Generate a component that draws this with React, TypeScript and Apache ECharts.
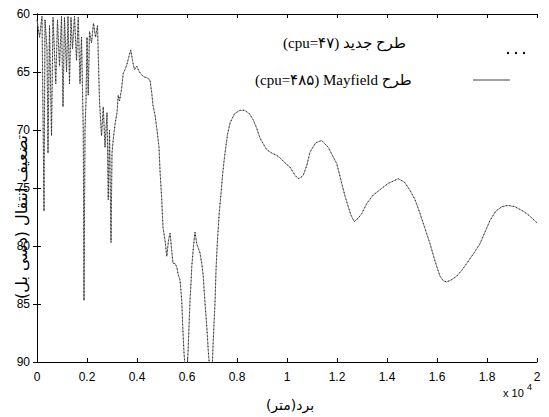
import React, { useEffect, useRef } from "react";
import * as echarts from "echarts";

// Range in units of 10^4 m, attenuation in dB
const nearFieldPairs: [number, number][] = [
  [0.000, 60.5], [0.010, 62], [0.020, 60.2], [0.028, 77], [0.032, 60.5], [0.040, 63], [0.044, 72],
  [0.050, 61], [0.058, 70.5], [0.064, 60.3], [0.075, 66], [0.082, 60.5], [0.090, 64.5], [0.098, 60.2],
  [0.104, 68], [0.110, 60.3], [0.118, 65], [0.124, 60.2], [0.130, 66], [0.136, 60.3], [0.142, 63],
  [0.150, 60.2], [0.158, 64], [0.165, 60.3], [0.172, 66], [0.178, 62], [0.185, 70], [0.188, 84.7],
  [0.192, 70], [0.196, 67.5], [0.200, 62], [0.205, 67], [0.210, 61.5], [0.218, 62.5], [0.226, 60.8],
  [0.234, 62], [0.242, 61], [0.250, 67.5], [0.258, 70.5], [0.265, 68], [0.272, 71.5], [0.280, 68.5],
  [0.285, 76], [0.290, 70], [0.296, 79.7], [0.300, 72], [0.305, 70.8], [0.312, 69.5], [0.320, 68.5],
  [0.325, 67], [0.330, 67.5], [0.338, 66.5], [0.345, 65.1],
];

const transitionPairs: [number, number][] = [
  [0.352, 64.8], [0.359, 64.4], [0.366, 63.8], [0.375, 63.1], [0.382, 64], [0.390, 64.8], [0.399, 64.5],
  [0.410, 65], [0.425, 65.4], [0.440, 65.5], [0.452, 65.7], [0.459, 66.8], [0.464, 67.9], [0.472, 68.7],
  [0.480, 70.0], [0.488, 71.5], [0.492, 73.5], [0.499, 76.0], [0.504, 78.4], [0.512, 79.5], [0.519, 80.9],
  [0.526, 79.5], [0.532, 78.9], [0.539, 80.4], [0.544, 81.5], [0.552, 81.5], [0.559, 81.8], [0.565, 82.5],
  [0.572, 82.9], [0.579, 84.7], [0.583, 87.0], [0.588, 89.2], [0.594, 91], [0.600, 91], [0.605, 88.7],
  [0.612, 84.7], [0.616, 83.2], [0.619, 81.8], [0.626, 80.0], [0.632, 78.8], [0.639, 79.8], [0.652, 80.6],
  [0.659, 81.5], [0.665, 82.6], [0.672, 84.9], [0.679, 86.9], [0.685, 89.0], [0.692, 91], [0.700, 91],
  [0.705, 88.1], [0.712, 84.9], [0.716, 82.1], [0.721, 79.8], [0.729, 77.1], [0.736, 75.5], [0.743, 73.7],
  [0.748, 72.7], [0.755, 71.5], [0.762, 70.4],
];

const farFieldPairs: [number, number][] = [
  [0.772, 69.4], [0.790, 68.6], [0.812, 68.3], [0.830, 68.3], [0.850, 68.6], [0.864, 69.1], [0.878, 69.8],
  [0.892, 70.7], [0.905, 71.2], [0.919, 71.7], [0.940, 72.0], [0.960, 72.2], [0.972, 72.4], [0.990, 72.8],
  [1.012, 73.2], [1.032, 73.9], [1.045, 74.2], [1.055, 74.1], [1.065, 73.9], [1.080, 73.0], [1.092, 71.9],
  [1.115, 71.1], [1.139, 70.9], [1.165, 71.5], [1.199, 72.9], [1.232, 75.7], [1.255, 77.3], [1.269, 77.9],
  [1.285, 77.6], [1.299, 77.2], [1.320, 76.3], [1.345, 75.6], [1.375, 75.1], [1.405, 74.6], [1.445, 74.2],
  [1.470, 74.5], [1.492, 75.2], [1.512, 76.0], [1.532, 77.2], [1.552, 78.5], [1.572, 79.8], [1.592, 81.3],
  [1.612, 82.6], [1.625, 83.0], [1.639, 83.1], [1.659, 82.9], [1.679, 82.6], [1.699, 82.1], [1.719, 81.5],
  [1.745, 80.7], [1.772, 79.8], [1.792, 78.8], [1.812, 77.8], [1.835, 77.0], [1.860, 76.6], [1.885, 76.5],
  [1.910, 76.6], [1.945, 77.0], [1.970, 77.4], [2.000, 78.0],
];

const seriesNames = ["(cpu=۴۷) طرح جدید", "(cpu=۴۸۵) Mayfield طرح"];
const yAxisTitle = "تضعیف انتقال (دسی بل)";
const xAxisTitle = "برد(متر)";

const SANS = "'Liberation Sans', Arial, sans-serif";
const LEGEND_FONT = "'Liberation Serif', 'DejaVu Sans', serif";

export default function App() {
  const ref = useRef<HTMLDivElement>(null);

  useEffect(() => {
    if (!ref.current) return;
    const chart = echarts.init(ref.current, null, { renderer: "svg" });
    const profile = [...nearFieldPairs, ...transitionPairs, ...farFieldPairs];

    const tickLabel = { color: "#000", fontFamily: SANS, fontSize: 12 };
    chart.setOption({
      animation: false,
      backgroundColor: "#fff",
      grid: { left: 37, right: 12, top: 14, bottom: 55 },
      xAxis: [
        {
          type: "value",
          min: 0,
          max: 2,
          interval: 0.2,
          axisLine: { show: true, lineStyle: { color: "#000", width: 1 } },
          axisTick: { show: true, inside: true, length: 4, lineStyle: { color: "#000" } },
          axisLabel: {
            ...tickLabel,
            margin: 9,
            formatter: (v: number) => String(parseFloat(v.toFixed(1))),
          },
          splitLine: { show: false },
        },
        {
          type: "value",
          position: "top",
          min: 0,
          max: 2,
          interval: 0.2,
          axisLine: { show: true, lineStyle: { color: "#000", width: 1 } },
          axisTick: { show: true, inside: true, length: 4, lineStyle: { color: "#000" } },
          axisLabel: { show: false },
          splitLine: { show: false },
        },
      ],
      yAxis: [
        {
          type: "value",
          inverse: true,
          min: 60,
          max: 90,
          interval: 5,
          axisLine: { show: true, lineStyle: { color: "#000", width: 1 } },
          axisTick: { show: true, inside: true, length: 4, lineStyle: { color: "#000" } },
          axisLabel: { ...tickLabel, margin: 7 },
          splitLine: { show: false },
        },
        {
          type: "value",
          inverse: true,
          position: "right",
          min: 60,
          max: 90,
          interval: 5,
          axisLine: { show: true, lineStyle: { color: "#000", width: 1 } },
          axisTick: { show: true, inside: true, length: 4, lineStyle: { color: "#000" } },
          axisLabel: { show: false },
          splitLine: { show: false },
        },
      ],
      series: [
        {
          name: seriesNames[1],
          type: "line",
          data: profile,
          showSymbol: false,
          symbol: "none",
          clip: true,
          lineStyle: { color: "#777", width: 0.8 },
        },
        {
          name: seriesNames[0],
          type: "line",
          data: profile,
          showSymbol: false,
          symbol: "none",
          clip: true,
          lineStyle: { color: "#222", width: 1, type: [1, 2.5] },
        },
      ],
      graphic: [
        {
          type: "text",
          left: 283,
          top: 35,
          style: { text: seriesNames[0], font: `15px ${LEGEND_FONT}`, fill: "#000" },
        },
        { type: "circle", shape: { cx: 508, cy: 53, r: 1.2 }, style: { fill: "#000" } },
        { type: "circle", shape: { cx: 516, cy: 53, r: 1.2 }, style: { fill: "#000" } },
        { type: "circle", shape: { cx: 524, cy: 53, r: 1.2 }, style: { fill: "#000" } },
        {
          type: "text",
          left: 255,
          top: 72,
          style: { text: seriesNames[1], font: `15px ${LEGEND_FONT}`, fill: "#000" },
        },
        {
          type: "line",
          shape: { x1: 473, y1: 80, x2: 510, y2: 80 },
          style: { stroke: "#444", lineWidth: 1 },
        },
        {
          type: "text",
          x: 21,
          y: 217,
          rotation: Math.PI / 2,
          style: {
            text: yAxisTitle,
            font: `16px 'DejaVu Sans', sans-serif`,
            fill: "#000",
            align: "center",
            verticalAlign: "middle",
          },
        },
        {
          type: "text",
          x: 290,
          y: 405,
          style: {
            text: xAxisTitle,
            font: `14px 'DejaVu Sans', sans-serif`,
            fill: "#000",
            align: "center",
            verticalAlign: "middle",
          },
        },
        {
          type: "text",
          x: 503,
          y: 393,
          style: {
            text: "x 10",
            font: `11px ${SANS}`,
            fill: "#000",
            verticalAlign: "middle",
          },
        },
        {
          type: "text",
          x: 527,
          y: 387,
          style: {
            text: "4",
            font: `9px ${SANS}`,
            fill: "#000",
            verticalAlign: "middle",
          },
        },
      ],
    });
    return () => chart.dispose();
  }, []);

  return (
    <div
      ref={ref}
      style={{ position: "fixed", left: 0, top: 0, width: 549, height: 417, background: "#fff" }}
    />
  );
}
